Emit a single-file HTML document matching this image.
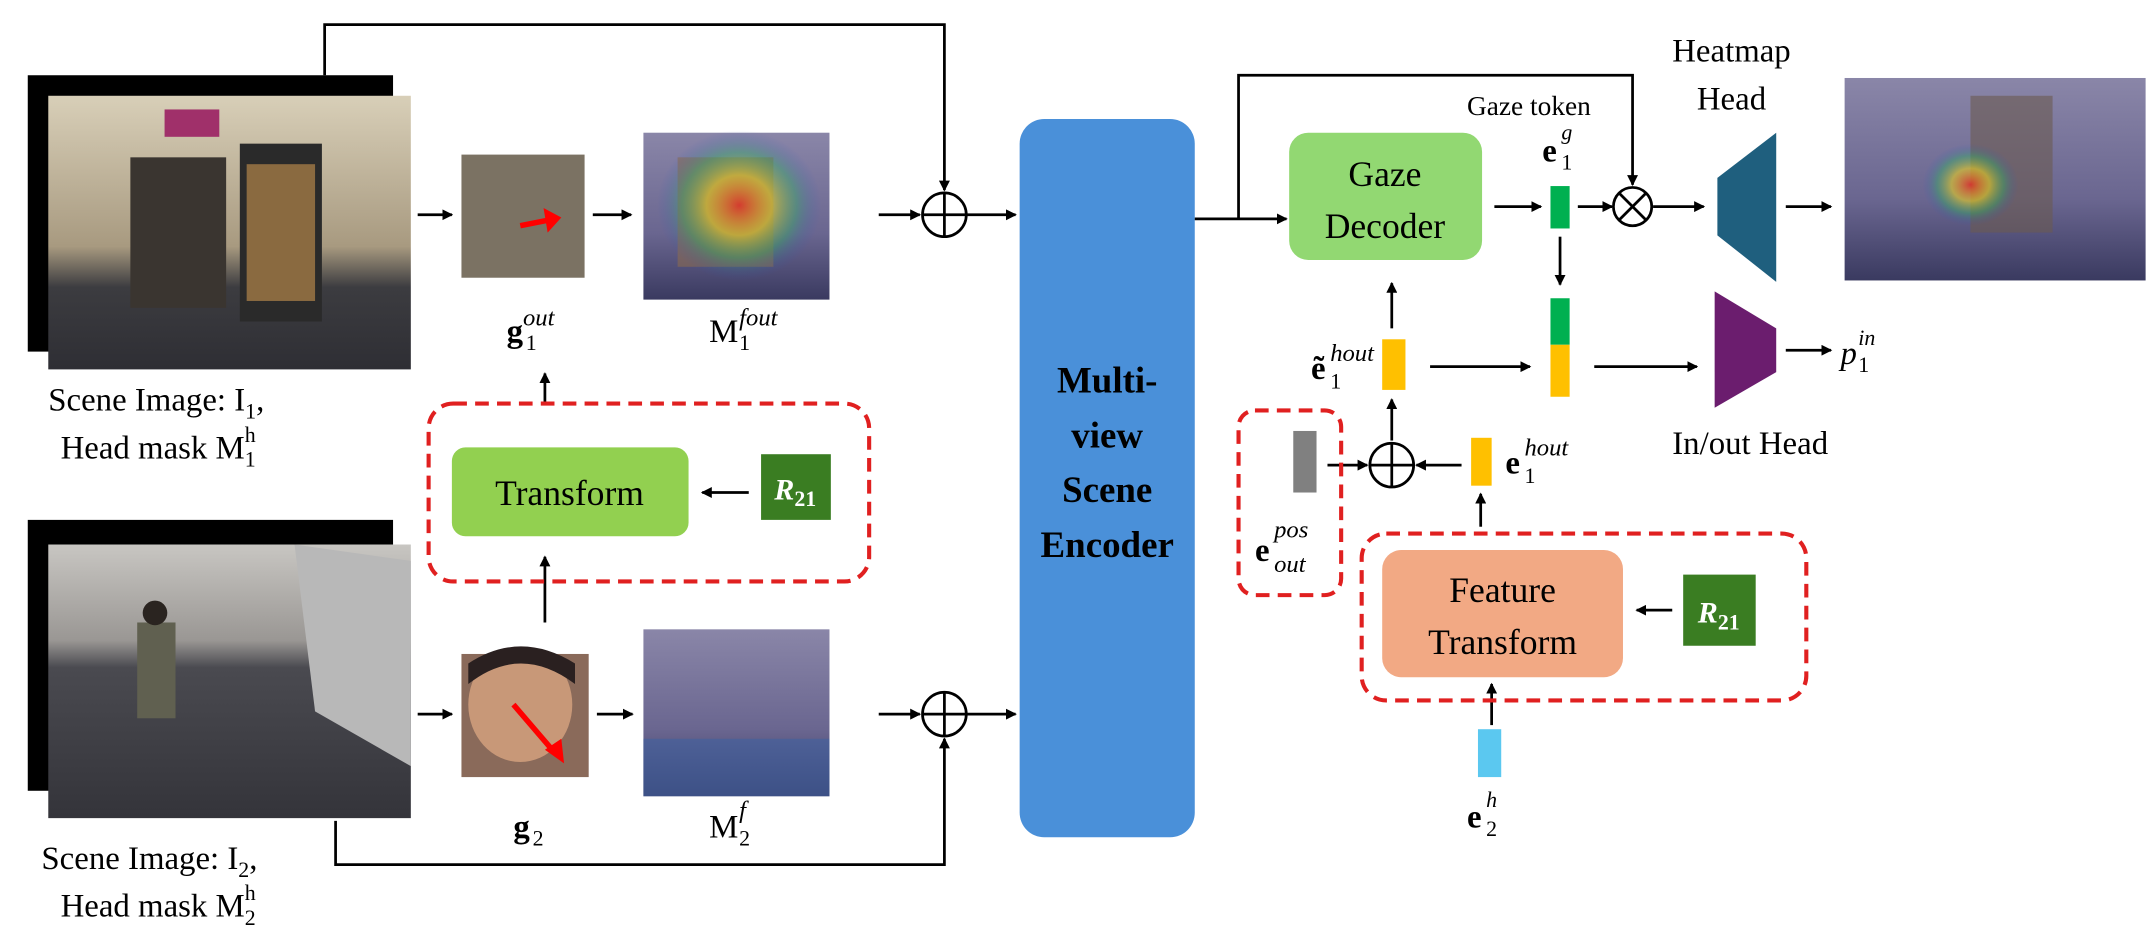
<!DOCTYPE html>
<html><head><meta charset="utf-8"><style>
html,body{margin:0;padding:0;background:#fff}
svg{display:block}
text{font-family:"Liberation Serif",serif;fill:#000}
</style></head><body>
<svg width="2146" height="944" viewBox="0 0 1568 690" xmlns="http://www.w3.org/2000/svg">
<defs>
<marker id="a" markerWidth="8" markerHeight="8" refX="7" refY="4" orient="auto" markerUnits="userSpaceOnUse"><path d="M0,0 L8,4 L0,8 z" fill="#000"/></marker>
<linearGradient id="img1" x1="0" y1="0" x2="0" y2="1"><stop offset="0" stop-color="#d8cfb8"/><stop offset="0.55" stop-color="#a89a80"/><stop offset="0.7" stop-color="#3c3c40"/><stop offset="1" stop-color="#2e2e34"/></linearGradient>
<linearGradient id="img2" x1="0" y1="0" x2="0" y2="1"><stop offset="0" stop-color="#c8c6c2"/><stop offset="0.35" stop-color="#9a9794"/><stop offset="0.45" stop-color="#4a4a50"/><stop offset="1" stop-color="#34343a"/></linearGradient>
<linearGradient id="img3" x1="0" y1="0" x2="0" y2="1"><stop offset="0" stop-color="#8a86a8"/><stop offset="0.6" stop-color="#6a6690"/><stop offset="1" stop-color="#3a3a60"/></linearGradient>
<radialGradient id="heat" cx="0.5" cy="0.5" r="0.5"><stop offset="0" stop-color="#e83020" stop-opacity="0.8"/><stop offset="0.4" stop-color="#e8d020" stop-opacity="0.6"/><stop offset="0.7" stop-color="#30b060" stop-opacity="0.4"/><stop offset="1" stop-color="#3050c0" stop-opacity="0"/></radialGradient>
</defs>
<g stroke="#000" stroke-width="2" fill="none">
<!-- top images -->
</g>
<rect x="20" y="55" width="267" height="202" fill="#000"/>
<rect x="35" y="70" width="265" height="200" fill="url(#img1)"/>
<rect x="95" y="115" width="70" height="110" fill="#3a3530"/>
<rect x="175" y="105" width="60" height="130" fill="#2a2a2a"/>
<rect x="180" y="120" width="50" height="100" fill="#8a6a40"/>
<rect x="120" y="80" width="40" height="20" fill="#a0306a"/>
<text x="35" y="300" font-size="24">Scene Image: I<tspan font-size="16" dy="6">1</tspan><tspan dy="-6">,</tspan></text>
<text x="44" y="335" font-size="24">Head mask M<tspan font-size="16" dy="6">1</tspan><tspan font-size="16" dx="-8" dy="-18">h</tspan></text>

<rect x="337" y="113" width="90" height="90" fill="#7b7263"/>
<line x1="380" y1="165" x2="405" y2="160" stroke="#f00" stroke-width="4"/>
<path d="M397,152 L410,159 L400,170 z" fill="#f00"/>
<rect x="470" y="97" width="136" height="122" fill="url(#img3)"/>
<rect x="495" y="115" width="70" height="80" fill="#8a6a50" opacity="0.6"/>
<ellipse cx="540" cy="150" rx="60" ry="55" fill="url(#heat)"/>

<text x="370" y="250" font-size="24" font-weight="bold">g</text><text x="384" y="256" font-size="16">1</text><text x="382" y="238" font-size="18" font-style="italic">out</text>
<text x="518" y="250" font-size="24">M</text><text x="540" y="256" font-size="16">1</text><text x="540" y="238" font-size="18" font-style="italic">fout</text>

<!-- bottom images -->
<rect x="20" y="380" width="267" height="198" fill="#000"/>
<rect x="35" y="398" width="265" height="200" fill="url(#img2)"/>
<path d="M215,398 L300,410 L300,560 L230,520 z" fill="#b8b8b8"/>
<rect x="100" y="455" width="28" height="70" fill="#606050"/>
<circle cx="113" cy="448" r="9" fill="#2a2420"/>
<text x="30" y="635" font-size="24">Scene Image: I<tspan font-size="16" dy="6">2</tspan><tspan dy="-6">,</tspan></text>
<text x="44" y="670" font-size="24">Head mask M<tspan font-size="16" dy="6">2</tspan><tspan font-size="16" dx="-8" dy="-18">h</tspan></text>

<rect x="337" y="478" width="93" height="90" fill="#8a6a5a"/>
<ellipse cx="380" cy="515" rx="38" ry="42" fill="#c89878"/>
<path d="M342,500 Q380,470 420,500 L420,485 Q380,460 342,485 z" fill="#2a2020"/>
<line x1="375" y1="515" x2="405" y2="550" stroke="#f00" stroke-width="4"/>
<path d="M398,548 L412,558 L410,540 z" fill="#f00"/>
<rect x="470" y="460" width="136" height="122" fill="url(#img3)"/>
<rect x="470" y="540" width="136" height="42" fill="#4060a0" opacity="0.6"/>
<text x="375" y="612" font-size="24" font-weight="bold">g</text><text x="389" y="618" font-size="16">2</text>
<text x="518" y="612" font-size="24">M</text><text x="540" y="618" font-size="16">2</text><text x="540" y="598" font-size="18" font-style="italic">f</text>

<g stroke="#000" stroke-width="2" fill="none">
<line x1="305" y1="157" x2="330" y2="157" marker-end="url(#a)"/>
<line x1="433" y1="157" x2="461" y2="157" marker-end="url(#a)"/>
<line x1="642" y1="157" x2="672" y2="157" marker-end="url(#a)"/>
<circle cx="690" cy="157" r="16"/><line x1="674" y1="157" x2="706" y2="157"/><line x1="690" y1="141" x2="690" y2="173"/>
<line x1="706" y1="157" x2="742" y2="157" marker-end="url(#a)"/>
<polyline points="237,55 237,18 690,18 690,139" marker-end="url(#a)"/>
<line x1="305" y1="522" x2="330" y2="522" marker-end="url(#a)"/>
<line x1="436" y1="522" x2="462" y2="522" marker-end="url(#a)"/>
<line x1="642" y1="522" x2="672" y2="522" marker-end="url(#a)"/>
<circle cx="690" cy="522" r="16"/><line x1="674" y1="522" x2="706" y2="522"/><line x1="690" y1="506" x2="690" y2="538"/>
<line x1="706" y1="522" x2="742" y2="522" marker-end="url(#a)"/>
<polyline points="245,600 245,632 690,632 690,540" marker-end="url(#a)"/>
<line x1="398" y1="455" x2="398" y2="407" marker-end="url(#a)"/>
<line x1="398" y1="295" x2="398" y2="273" marker-end="url(#a)"/>
<line x1="547" y1="360" x2="513" y2="360" marker-end="url(#a)"/>
</g>
<rect x="313" y="295" width="322" height="130" rx="18" fill="none" stroke="#e02020" stroke-width="3" stroke-dasharray="10,6"/>
<rect x="330" y="327" width="173" height="65" rx="10" fill="#92d050"/>
<text x="416" y="369" font-size="26" text-anchor="middle">Transform</text>
<rect x="556" y="332" width="51" height="48" fill="#3a7d22"/>
<text x="581" y="365" font-size="22" font-weight="bold" font-style="italic" text-anchor="middle" style="fill:#fff">R<tspan font-size="16" dy="5" font-style="normal">21</tspan></text>

<!-- encoder -->
<rect x="745" y="87" width="128" height="525" rx="18" fill="#4a90d9"/>
<g font-size="27" font-weight="bold" text-anchor="middle">
<text x="809" y="287">Multi-</text><text x="809" y="327">view</text><text x="809" y="367">Scene</text><text x="809" y="407">Encoder</text></g>

<g stroke="#000" stroke-width="2" fill="none">
<line x1="873" y1="160" x2="940" y2="160" marker-end="url(#a)"/>
<polyline points="905,160 905,55 1193,55 1193,135" marker-end="url(#a)"/>
<line x1="1092" y1="151" x2="1126" y2="151" marker-end="url(#a)"/>
<line x1="1153" y1="151" x2="1178" y2="151" marker-end="url(#a)"/>
<circle cx="1193" cy="151" r="14"/><line x1="1183" y1="141" x2="1203" y2="161"/><line x1="1203" y1="141" x2="1183" y2="161"/>
<line x1="1208" y1="151" x2="1245" y2="151" marker-end="url(#a)"/>
<line x1="1305" y1="151" x2="1338" y2="151" marker-end="url(#a)"/>
<line x1="1140" y1="173" x2="1140" y2="208" marker-end="url(#a)"/>
<line x1="1017" y1="240" x2="1017" y2="207" marker-end="url(#a)"/>
<line x1="1045" y1="268" x2="1118" y2="268" marker-end="url(#a)"/>
<line x1="1165" y1="268" x2="1240" y2="268" marker-end="url(#a)"/>
<line x1="1305" y1="256" x2="1338" y2="256" marker-end="url(#a)"/>
<circle cx="1017" cy="340" r="16"/><line x1="1001" y1="340" x2="1033" y2="340"/><line x1="1017" y1="324" x2="1017" y2="356"/>
<line x1="1017" y1="322" x2="1017" y2="292" marker-end="url(#a)"/>
<line x1="970" y1="340" x2="999" y2="340" marker-end="url(#a)"/>
<line x1="1068" y1="340" x2="1035" y2="340" marker-end="url(#a)"/>
<line x1="1082" y1="385" x2="1082" y2="361" marker-end="url(#a)"/>
<line x1="1222" y1="446" x2="1196" y2="446" marker-end="url(#a)"/>
<line x1="1090" y1="530" x2="1090" y2="500" marker-end="url(#a)"/>
</g>
<rect x="942" y="97" width="141" height="93" rx="14" fill="#92d872"/>
<text x="1012" y="136" font-size="26" text-anchor="middle">Gaze</text>
<text x="1012" y="174" font-size="26" text-anchor="middle">Decoder</text>
<rect x="1133" y="136" width="14" height="31" fill="#00b050"/>
<text x="1072" y="84" font-size="20">Gaze token</text>
<text x="1127" y="118" font-size="24" font-weight="bold">e</text><text x="1141" y="124" font-size="16">1</text><text x="1141" y="102" font-size="16" font-style="italic">g</text>
<path d="M1255,130 L1298,97 L1298,206 L1255,172 z" fill="#1f5f7e"/>
<text x="1222" y="45" font-size="24">Heatmap</text><text x="1240" y="80" font-size="24">Head</text>
<rect x="1348" y="57" width="220" height="148" fill="url(#img3)"/>
<rect x="1440" y="70" width="60" height="100" fill="#6a5a50" opacity="0.6"/>
<ellipse cx="1440" cy="135" rx="35" ry="30" fill="url(#heat)"/>
<rect x="1133" y="218" width="14" height="34" fill="#00b050"/>
<rect x="1133" y="252" width="14" height="38" fill="#ffc000"/>
<rect x="1010" y="248" width="17" height="37" fill="#ffc000"/>
<text x="958" y="277" font-size="24" font-weight="bold">ẽ</text><text x="972" y="284" font-size="16">1</text><text x="972" y="264" font-size="18" font-style="italic">hout</text>
<path d="M1253,213 L1298,240 L1298,272 L1253,298 z" fill="#6b1d6e"/>
<text x="1345" y="266" font-size="24" font-style="italic">p</text><text x="1358" y="272" font-size="16">1</text><text x="1358" y="252" font-size="16" font-style="italic">in</text>
<text x="1222" y="332" font-size="24">In/out Head</text>
<rect x="905" y="300" width="75" height="135" rx="12" fill="none" stroke="#e02020" stroke-width="3" stroke-dasharray="10,6"/>
<rect x="945" y="315" width="17" height="45" fill="#808080"/>
<text x="917" y="410" font-size="24" font-weight="bold">e</text><text x="931" y="418" font-size="18" font-style="italic">out</text><text x="931" y="393" font-size="18" font-style="italic">pos</text>
<rect x="1075" y="320" width="15" height="35" fill="#ffc000"/>
<text x="1100" y="346" font-size="24" font-weight="bold">e</text><text x="1114" y="353" font-size="16">1</text><text x="1114" y="333" font-size="18" font-style="italic">hout</text>
<rect x="995" y="390" width="325" height="122" rx="18" fill="none" stroke="#e02020" stroke-width="3" stroke-dasharray="10,6"/>
<rect x="1010" y="402" width="176" height="93" rx="14" fill="#f2a984"/>
<text x="1098" y="440" font-size="26" text-anchor="middle">Feature</text>
<text x="1098" y="478" font-size="26" text-anchor="middle">Transform</text>
<rect x="1230" y="420" width="53" height="52" fill="#3a7d22"/>
<text x="1256" y="455" font-size="22" font-weight="bold" font-style="italic" text-anchor="middle" style="fill:#fff">R<tspan font-size="16" dy="5" font-style="normal">21</tspan></text>
<rect x="1080" y="533" width="17" height="35" fill="#5bc8f0"/>
<text x="1072" y="605" font-size="24" font-weight="bold">e</text><text x="1086" y="611" font-size="16">2</text><text x="1086" y="590" font-size="16" font-style="italic">h</text>
</svg>
</body></html>
